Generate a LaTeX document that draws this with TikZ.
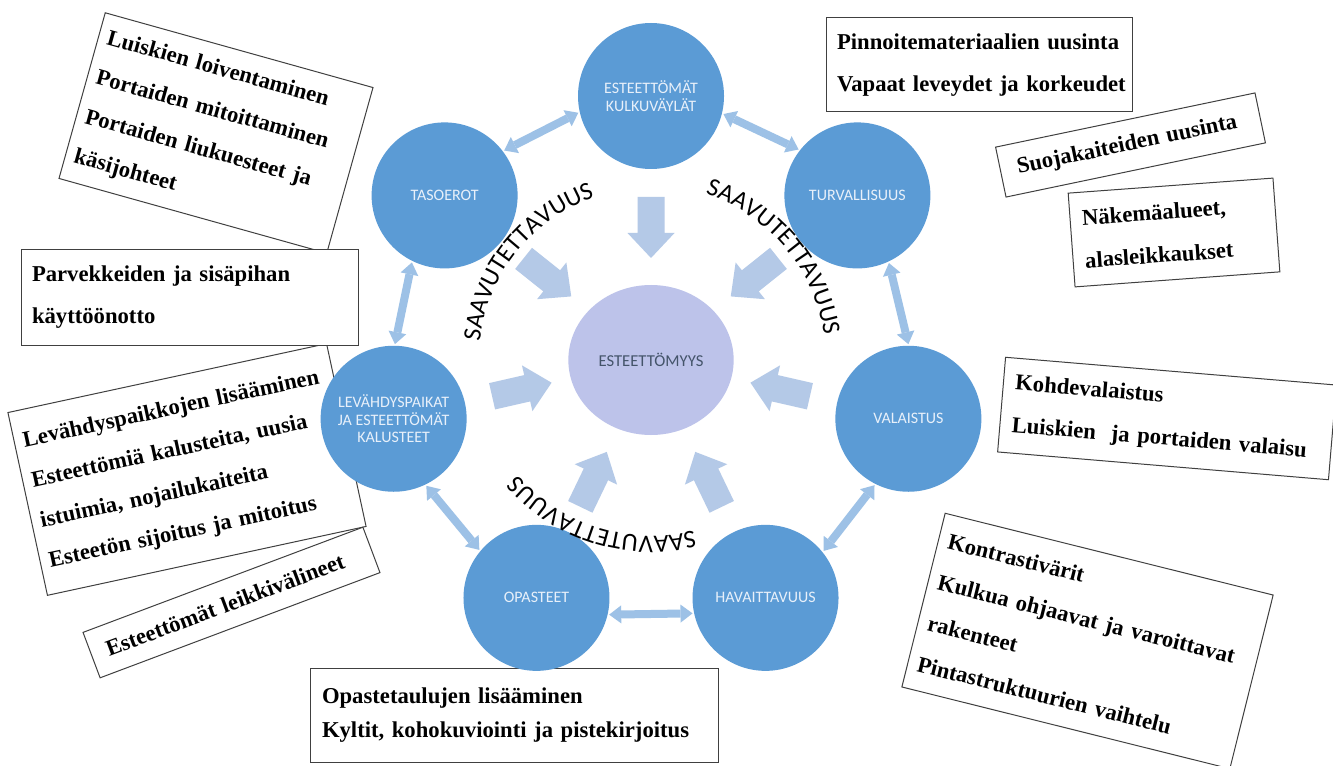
\documentclass[tikz,border=0pt]{standalone}
\usepackage{fontspec}
\setmainfont{Liberation Serif}[WordSpace=0.78]
\setsansfont{Carlito}
\usetikzlibrary{arrows.meta,calc,decorations.text,shapes.geometric}
\definecolor{nodeblue}{RGB}{91,155,213}
\definecolor{centerfill}{RGB}{189,195,234}
\definecolor{bigarrowc}{RGB}{180,201,231}
\definecolor{ringarrowc}{RGB}{157,193,230}
\definecolor{boxline}{RGB}{64,64,64}
\definecolor{centertext}{RGB}{68,84,106}
\definecolor{labeltext}{RGB}{232,240,250}
\begin{document}
\begin{tikzpicture}[x=0.75pt,y=0.75pt,
  ring/.style={circle, fill=nodeblue, minimum size=109.5pt, inner sep=0pt, outer sep=1.2pt,
    text=labeltext, font=\sffamily\fontsize{12}{13.2}\selectfont, align=center},
  hub/.style={ellipse, fill=centerfill, minimum width=124pt, minimum height=112.5pt, inner sep=0pt,
    text=centertext, font=\sffamily\fontsize{12.5}{14}\selectfont},
  link/.style={ringarrowc, line width=6pt,
    {Triangle[width=13.5pt,length=9pt,line width=0pt]}-{Triangle[width=13.5pt,length=9pt,line width=0pt]}},
  note/.style={draw=boxline, line width=0.75pt, fill=white, align=left, inner ysep=0pt,
    font=\bfseries\fontsize{17}{#1}\selectfont},
  note/.default=31.5pt,
  arcword/.style={decorate, decoration={text along path, text align=center,
    text={|\sffamily\fontsize{19}{19}\selectfont|SAAVUTETTAVUUS}}}
]
\useasboundingbox (0,0) rectangle (1333,765);
\fill[white] (0,0) rectangle (1333,765);
\coordinate (C) at (651,405);

% text boxes (under the circles)
\node[note=30.75pt, rotate=-15.6, minimum width=208.5pt, minimum height=129pt, text width=195pt, inner xsep=6.75pt]
  (boxA) at (216,632) {\mbox{Luiskien loiventaminen}\\\mbox{Portaiden mitoittaminen}\\\mbox{Portaiden liukuesteet ja}\\\mbox{käsijohteet}};
\node[note=30.75pt, rotate=12.2, minimum width=244.5pt, minimum height=140.25pt, text width=231pt, inner xsep=6.75pt]
  (boxH) at (187,295.5) {\mbox{Levähdyspaikkojen lisääminen}\\\mbox{Esteettömiä kalusteita, uusia}\\\mbox{istuimia, nojailukaiteita}\\\mbox{Esteetön sijoitus ja mitoitus}};
\node[note, minimum width=252.75pt, minimum height=71.25pt, text width=236.25pt, inner xsep=8.25pt]
  (boxB) at (189.5,467.5) {\mbox{Parvekkeiden ja sisäpihan}\\\mbox{käyttöönotto}};
\node[note, rotate=20.6, minimum width=224.25pt, minimum height=36.4pt, text width=200.25pt, inner xsep=12pt]
  (boxI) at (231.5,162.5) {\mbox{Esteettömät leikkivälineet}};
\node[note, minimum width=229.5pt, minimum height=70.5pt, text width=213pt, inner xsep=8.25pt]
  (boxC) at (979,700) {\mbox{Pinnoitemateriaalien uusinta}\\\mbox{Vapaat leveydet ja korkeudet}};
\node[note, rotate=11.8, minimum width=198.75pt, minimum height=38.25pt, text width=173.25pt, inner xsep=12.75pt]
  (boxD) at (1130.5,620) {\mbox{Suojakaiteiden uusinta}};
\node[note=32pt, rotate=4.2, minimum width=154pt, minimum height=70.5pt, text width=136pt, inner xsep=9pt]
  (boxE) at (1174,532.5) {\mbox{Näkemäalueet,}\\\mbox{alasleikkaukset}};
\node[note=32pt, rotate=-4.8, minimum width=249pt, minimum height=71.25pt, text width=231pt, inner xsep=9pt]
  (boxF) at (1167,346.5) {\mbox{Kohdevalaistus}\\\mbox{Luiskien\ \ ja portaiden valaisu}};
\node[note, rotate=-14, minimum width=253.5pt, minimum height=134.25pt, text width=238.5pt, inner xsep=7.5pt]
  (boxG) at (1087.5,124) {\mbox{Kontrastivärit}\\\mbox{Kulkua ohjaavat ja varoittavat}\\\mbox{rakenteet}\\\mbox{Pintastruktuurien vaihtelu}};
\node[note=26pt, minimum width=306pt, minimum height=70.5pt, text width=288pt, inner xsep=9pt]
  (boxJ) at (514,50) {\mbox{Opastetaulujen lisääminen}\\\mbox{Kyltit, kohokuviointi ja pistekirjoitus}};

% hub and ring nodes
\node[hub] (hub) at (C) {ESTEETTÖMYYS};
\node[ring] (kul) at ($(C)+(90:264)$) {ESTEETTÖMÄT\\KULKUVÄYLÄT};
\node[ring] (tas) at ($(C)+(141.43:264)$) {TASOEROT};
\node[ring] (lev) at ($(C)+(192.86:264)$) {LEVÄHDYSPAIKAT\\JA ESTEETTÖMÄT\\KALUSTEET};
\node[ring] (opa) at ($(C)+(244.29:264)$) {OPASTEET};
\node[ring] (hav) at ($(C)+(295.71:264)$) {HAVAITTAVUUS};
\node[ring] (val) at ($(C)+(347.14:264)$) {VALAISTUS};
\node[ring] (tur) at ($(C)+(38.57:264)$) {TURVALLISUUS};

% big arrows towards the hub
\foreach \a in {90,141.43,192.86,244.29,295.71,347.14,38.57}{
  \fill[bigarrowc, shift={(hub.center)}, rotate=\a]
    (163,-13.5) -- (127,-13.5) -- (127,-23.5) -- (102,0) -- (127,23.5) -- (127,13.5) -- (163,13.5) -- cycle;
}

% double arrows on the ring
\draw[link] (tur.142.07) -- (kul.346.5);
\draw[link] (kul.193.5) -- (tas.37.93);
\draw[link] (tas.244.93) -- (lev.89.36);
\draw[link] (lev.296.36) -- (opa.140.79);
\draw[link] (opa.347.79) -- (hav.192.21);
\draw[link] (hav.39.21) -- (val.243.64);
\draw[link] (val.90.64) -- (tur.295.07);

% curved words
\path[arcword] ($(hub.center)+(186.5:129pt)$) arc[start angle=186.5, end angle=96.5, radius=129pt];
\path[arcword] ($(hub.center)+(85:131pt)$) arc[start angle=85, end angle=-5, radius=131pt];
\path[arcword] ($(hub.center)+(-62.5:132pt)$) arc[start angle=-62.5, end angle=-152.5, radius=132pt];
\end{tikzpicture}
\end{document}
